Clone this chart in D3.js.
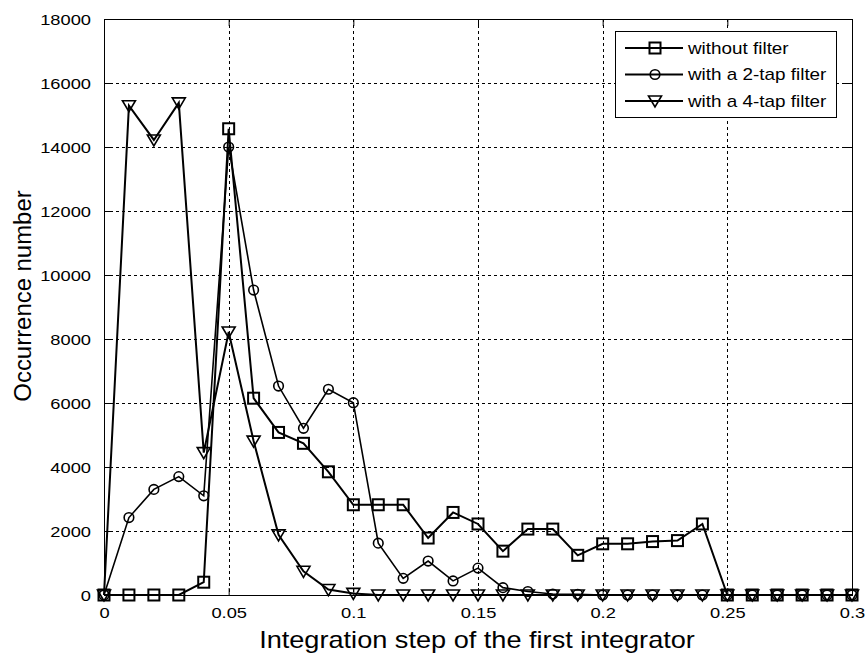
<!DOCTYPE html>
<html>
<head>
<meta charset="utf-8">
<script src="https://cdn.jsdelivr.net/npm/d3@7"></script>
<style>
  html, body { margin: 0; padding: 0; background: #fff; }
  svg { display: block; }
  text { font-family: "Liberation Sans", Arial, Helvetica, sans-serif; fill: #000; }
</style>
</head>
<body>
<svg id="chart" width="867" height="658"></svg>
<script>
// Integration step (x) for every sample
const steps = [0, 0.01, 0.02, 0.03, 0.04, 0.05, 0.06, 0.07, 0.08, 0.09, 0.10,
               0.11, 0.12, 0.13, 0.14, 0.15, 0.16, 0.17, 0.18, 0.19, 0.20,
               0.21, 0.22, 0.23, 0.24, 0.25, 0.26, 0.27, 0.28, 0.29, 0.30];

// Occurrence counts per series
const withoutFilter = [0, 0, 0, 0, 400, 14570, 6150, 5080, 4740, 3850, 2820,
                       2820, 2820, 1780, 2580, 2220, 1370, 2060, 2060, 1240, 1600,
                       1600, 1670, 1700, 2220, 0, 0, 0, 0, 0, 0];
const twoTapFilter = [0, 2420, 3300, 3700, 3100, 14000, 9530, 6530, 5210, 6430, 6010,
                      1620, 520, 1060, 440, 840, 230, 110, 30, 20, 0,
                      0, 0, 0, 0, 0, 0, 0, 0, 0, 0];
const fourTapFilter = [0, 15290, 14220, 15380, 4450, 8220, 4810, 1880, 740, 170, 50,
                       0, 0, 0, 0, 0, 0, 0, 0, 0, 0,
                       0, 0, 0, 0, 0, 0, 0, 0, 0, 0];

const seriesNames = ["without filter", "with a 2-tap filter", "with a 4-tap filter"];
const seriesValues = [withoutFilter, twoTapFilter, fourTapFilter];
const markerKinds = ["square", "circle", "triangle"];

const xTicks = [0, 0.05, 0.1, 0.15, 0.2, 0.25, 0.3];
const yTicks = [0, 2000, 4000, 6000, 8000, 10000, 12000, 14000, 16000, 18000];

const xTitle = "Integration step of the first integrator";
const yTitle = "Occurrence number";

const svg = d3.select("#chart");
const plot = { left: 104, right: 852, top: 19, bottom: 595 };

const x = d3.scaleLinear().domain([0, 0.3]).range([plot.left, plot.right]);
const y = d3.scaleLinear().domain([0, 18000]).range([plot.bottom, plot.top]);

// Grid lines (dotted)
const grid = svg.append("g").attr("stroke", "#000").attr("stroke-width", 1)
  .attr("stroke-dasharray", "3,3").attr("shape-rendering", "crispEdges");
xTicks.slice(1, -1).forEach(t => {
  grid.append("line").attr("x1", Math.round(x(t)) + 0.5).attr("x2", Math.round(x(t)) + 0.5)
    .attr("y1", plot.top).attr("y2", plot.bottom);
});
yTicks.slice(1, -1).forEach(t => {
  grid.append("line").attr("y1", Math.round(y(t)) + 0.5).attr("y2", Math.round(y(t)) + 0.5)
    .attr("x1", plot.left).attr("x2", plot.right);
});

// Axes: ticks point inward, labels stretched like the original bitmap font
const tickFont = 15, tickStretch = 1.22;
const xAxis = d3.axisBottom(x).tickValues(xTicks).tickSizeInner(-7).tickSizeOuter(0)
  .tickPadding(12).tickFormat(d => d === 0 ? "0" : String(+d.toFixed(2)));
const yAxis = d3.axisLeft(y).tickValues(yTicks).tickSizeInner(-7).tickSizeOuter(0)
  .tickPadding(13).tickFormat(d3.format("d"));

const gx = svg.append("g").attr("transform", `translate(0,${plot.bottom})`).call(xAxis);
const gy = svg.append("g").attr("transform", `translate(${plot.left},0)`).call(yAxis);
[gx, gy].forEach(g => {
  g.select(".domain").remove();
  g.selectAll("line").attr("stroke", "#000").attr("stroke-width", 1);
  g.selectAll("text").attr("font-size", tickFont).attr("font-family", null).attr("fill", "#000");
});
gx.selectAll(".tick text").attr("dy", "0.71em")
  .attr("transform", function () { return `translate(0,${+d3.select(this).attr("y")}) scale(${tickStretch},1) translate(0,${-d3.select(this).attr("y")})`; });
gy.selectAll(".tick text").attr("dy", "0.35em")
  .attr("transform", function () { const xx = +d3.select(this).attr("x"); return `translate(${xx},0) scale(${tickStretch},1) translate(${-xx},0)`; });
// opposite-side ticks (box axes)
const gyR = svg.append("g").attr("transform", `translate(${plot.right},0)`)
  .call(d3.axisRight(y).tickValues(yTicks).tickSizeInner(-7).tickSizeOuter(0).tickFormat(""));
const gxT = svg.append("g").attr("transform", `translate(0,${plot.top})`)
  .call(d3.axisTop(x).tickValues(xTicks).tickSizeInner(-7).tickSizeOuter(0).tickFormat(""));
[gyR, gxT].forEach(g => { g.select(".domain").remove(); g.selectAll("line").attr("stroke", "#000"); });

// Axes box
svg.append("rect").attr("x", plot.left + 0.5).attr("y", plot.top + 0.5)
  .attr("width", plot.right - plot.left).attr("height", plot.bottom - plot.top)
  .attr("fill", "none").attr("stroke", "#000").attr("stroke-width", 1);

// Markers
function drawMarker(g, kind, cx, cy) {
  if (kind === "square") {
    g.append("rect").attr("x", cx - 5.5).attr("y", cy - 5.5).attr("width", 11).attr("height", 11)
      .attr("fill", "none").attr("stroke", "#000").attr("stroke-width", 2);
  } else if (kind === "circle") {
    g.append("circle").attr("cx", cx).attr("cy", cy).attr("r", 4.8)
      .attr("fill", "none").attr("stroke", "#000").attr("stroke-width", 1.6);
  } else {
    g.append("path").attr("d", `M${cx - 6.5},${cy - 5} L${cx + 6.5},${cy - 5} L${cx},${cy + 6} Z`)
      .attr("fill", "none").attr("stroke", "#000").attr("stroke-width", 1.6);
  }
}

const line = d3.line().x(d => x(d[0])).y(d => y(d[1]));
const lineWidths = [2, 1.6, 2];
seriesValues.forEach((vals, i) => {
  const pts = steps.map((s, j) => [s, vals[j]]);
  const g = svg.append("g");
  g.append("path").attr("d", line(pts)).attr("fill", "none").attr("stroke", "#000")
    .attr("stroke-width", lineWidths[i]).attr("stroke-linejoin", "miter");
  pts.forEach(p => drawMarker(g, markerKinds[i], x(p[0]), y(p[1])));
});

// Legend
const leg = svg.append("g");
leg.append("rect").attr("x", 615.5).attr("y", 31.5).attr("width", 221).attr("height", 86)
  .attr("fill", "#fff").attr("stroke", "#000").attr("stroke-width", 1);
const legRows = [48, 74.5, 101];
seriesNames.forEach((name, i) => {
  const ly = legRows[i];
  leg.append("line").attr("x1", 625).attr("x2", 683).attr("y1", ly).attr("y2", ly)
    .attr("stroke", "#000").attr("stroke-width", 2);
  drawMarker(leg, markerKinds[i], 655, ly);
  leg.append("text").attr("font-size", 16).attr("dy", "0.35em")
    .attr("transform", `translate(688,${ly}) scale(1.18,1)`).text(name);
});

// Axis titles
svg.append("text").attr("font-size", 23).attr("text-anchor", "middle")
  .attr("transform", `translate(477,648) scale(1.18,1)`).text(xTitle);
svg.append("text").attr("font-size", 23).attr("text-anchor", "middle")
  .attr("transform", `translate(31,296) rotate(-90) scale(1.04,1)`).text(yTitle);
</script>
</body>
</html>
